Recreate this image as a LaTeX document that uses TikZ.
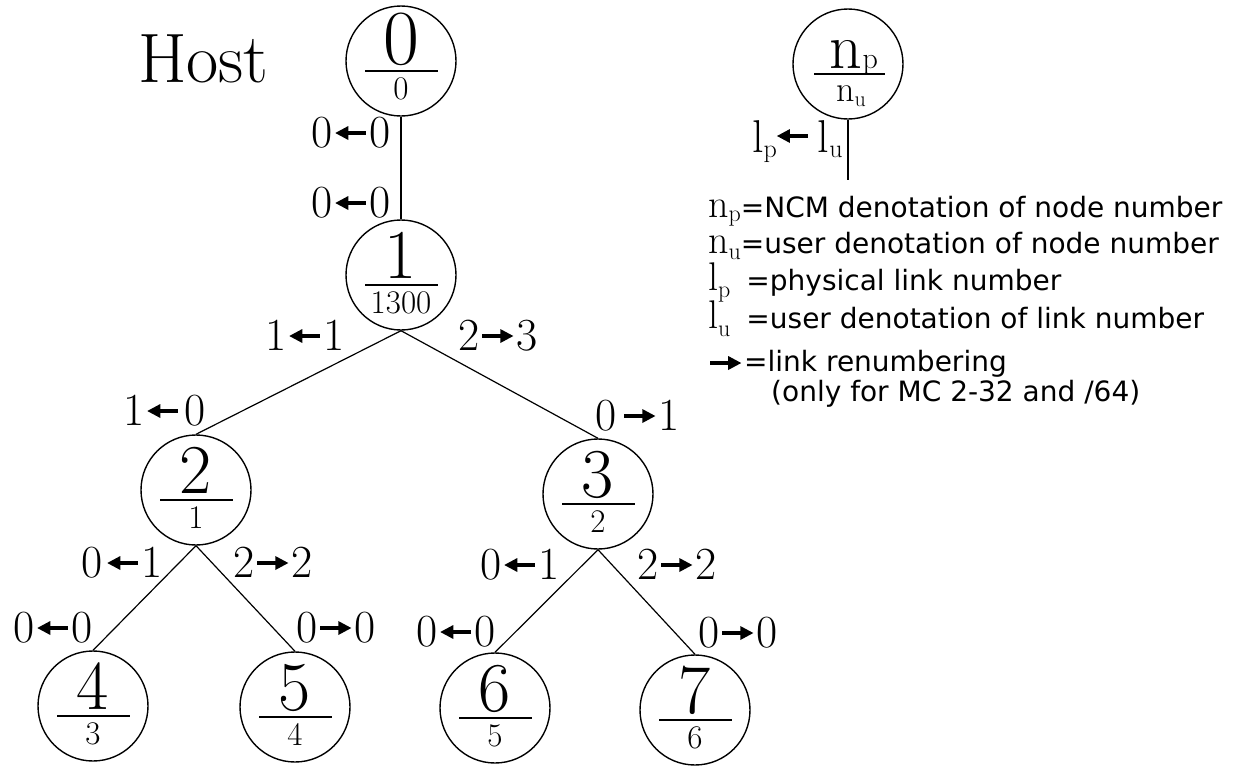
\documentclass[tikz,border=0pt]{standalone}
\usepackage{fontspec}
\newfontfamily\lgf{DejaVu Sans}
\newcommand\lar[1][14pt]{\tikz[baseline=-#1]{\fill (0pt,0pt) -- (13pt,7pt) -- (13pt,-7pt) -- cycle; \fill (12pt,-1.8pt) rectangle (31pt,1.8pt);}}
\newcommand\rar[1][14pt]{\tikz[baseline=-#1]{\fill (31pt,0pt) -- (18pt,7pt) -- (18pt,-7pt) -- cycle; \fill (0pt,-1.8pt) rectangle (19pt,1.8pt);}}
\newcommand\lsym[3]{{\fontsize{40}{40}\selectfont #1\raisebox{#3}{\fontsize{24}{24}\selectfont #2}}}
\tikzset{
  circ/.style={circle, draw, line width=1.4pt, minimum size=110pt, inner sep=0pt},
  numf/.style={inner sep=0pt, anchor=base},
  denf/.style={font=\fontsize{33}{33}\selectfont, inner sep=0pt, anchor=base},
  barst/.style={line width=2pt},
  lab/.style={font=\fontsize{46}{46}\selectfont, inner sep=0pt, anchor=base west},
  edge/.style={line width=1.2pt},
  legt/.style={inner sep=0pt, anchor=base west, font=\fontsize{28}{32}\selectfont},
}
\newcommand\tnode[6][70]{%
  \node[circ] (#2) at (#3,#4) {};
  \node[numf, font=\fontsize{#1}{#1}\selectfont, yshift=-3pt] (#2n) at (#2.center) {#5};
  \node[denf, yshift=-38pt] (#2d) at (#2.center) {#6};
  \draw[barst] ([shift={(-36pt,-10pt)}]#2.center) -- ([shift={(37pt,-10pt)}]#2.center);
}
\begin{document}
\begin{tikzpicture}[x=1pt,y=-1pt]
\fill[white] (0,0) rectangle (1253,766);
\useasboundingbox (0,0) rectangle (1253,766);

% Host
\node[font=\fontsize{70}{70}\selectfont, inner sep=0pt, anchor=base west] (host) at (138,82) {Host};

% tree nodes
\tnode[78]{n0}{401}{61}{0}{0}
\tnode{n1}{401}{275}{1}{1300}
\tnode{n2}{196}{490}{2}{1}
\tnode{n3}{598}{494}{3}{2}
\tnode{n4}{93}{706}{4}{3}
\tnode{n5}{295}{707}{5}{4}
\tnode{n6}{495}{708}{6}{5}
\tnode{n7}{695}{710}{7}{6}

% connectors
\draw[edge] (n0.south) -- (n1.north);
\draw[edge] (n1.south) -- (n2.north);
\draw[edge] (n1.south) -- (n3.north);
\draw[edge] (n2.south) -- (n4.north);
\draw[edge] (n2.south) -- (n5.north);
\draw[edge] (n3.south) -- (n6.north);
\draw[edge] (n3.south) -- (n7.north);

% link labels
\node[lab] (l01a) at (311,147) {0\hspace{3pt}\lar\hspace{3pt}0};
\node[lab] (l01b) at (311,217) {0\hspace{3pt}\lar\hspace{3pt}0};
\node[lab] (l12) at (265,350) {1\hspace{3pt}\lar\hspace{3pt}1};
\node[lab] (l13) at (458,350) {2\hspace{3pt}\rar\hspace{3pt}3};
\node[lab] (l21) at (123,425) {1\hspace{3pt}\lar\hspace{6pt}0};
\node[lab] (l31) at (595,430) {0\hspace{8pt}\rar\hspace{3pt}1};
\node[lab] (l24) at (81,577) {0\hspace{5pt}\lar\hspace{3pt}1};
\node[lab] (l25) at (233,577) {2\hspace{3pt}\rar\hspace{3pt}2};
\node[lab] (l36) at (480,579) {0\hspace{3pt}\lar\hspace{3pt}1};
\node[lab] (l37) at (637,579) {2\hspace{3pt}\rar\hspace{3pt}2};
\node[lab] (l42) at (13,642) {0\hspace{3pt}\lar\hspace{3pt}0};
\node[lab] (l52) at (296,642) {0\hspace{3pt}\rar\hspace{3pt}0};
\node[lab] (l63) at (416,646) {0\hspace{3pt}\lar\hspace{3pt}0};
\node[lab] (l73) at (698,647) {0\hspace{3pt}\rar\hspace{3pt}0};

% legend symbol node
\node[circ] (nl) at (848,64) {};
\node[numf, font=\fontsize{64}{64}\selectfont, xshift=6pt, yshift=-4pt] (nlp) at (nl.center) {n{\fontsize{30}{30}\selectfont p}};
\node[numf, font=\fontsize{36}{36}\selectfont, xshift=3pt, yshift=-37pt] (nlu) at (nl.center) {n\raisebox{-5pt}{\fontsize{22}{22}\selectfont u}};
\draw[barst] ([shift={(-34pt,-10pt)}]nl.center) -- ([shift={(37pt,-10pt)}]nl.center);
\coordinate (lend) at (848,180);
\draw[edge] (nl.south) -- (lend);
\node[lab] (llab) at (752,152) {l\raisebox{-5pt}{\fontsize{26}{26}\selectfont p}\lar[16pt]\hspace{10pt}l\raisebox{-5pt}{\fontsize{26}{26}\selectfont u}};

% legend text
\node[legt] (lg1) at (708,217) {\lsym{n}{p}{-4pt}{\lgf =NCM denotation of node number}};
\node[legt] (lg2) at (708,253) {\lsym{n}{u}{-6pt}{\lgf =user denotation of node number}};
\node[legt] (lg3) at (708,290) {\lsym{l}{p}{-7pt}\hspace{16pt}{\lgf =physical link number}};
\node[legt] (lg4) at (708,328) {\lsym{l}{u}{-8pt}\hspace{16pt}{\lgf =user denotation of link number}};
\node[legt] (lg5) at (710,371) {\rar[8pt]\hspace{3pt}{\lgf =link renumbering}};
\node[legt] (lg6) at (771,401) {\lgf (only for MC 2-32 and /64)};
\end{tikzpicture}
\end{document}
